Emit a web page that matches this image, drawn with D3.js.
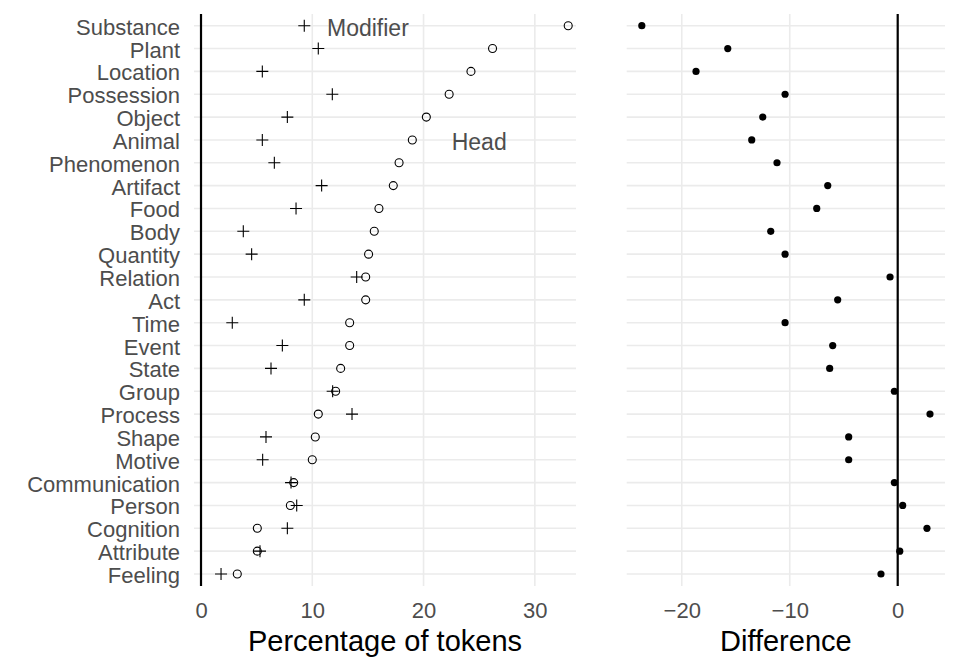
<!DOCTYPE html>
<html>
<head>
<meta charset="utf-8">
<script src="https://cdn.jsdelivr.net/npm/d3@7"></script>
<style>
  body { margin: 0; background: white; }
  text { font-family: "Liberation Sans", Arial, sans-serif; }
</style>
</head>
<body>
<div id="my_dataviz"></div>
<script>

// categories, top to bottom
const categories = ['Substance', 'Plant', 'Location', 'Possession', 'Object', 'Animal', 'Phenomenon',
    'Artifact', 'Food', 'Body', 'Quantity', 'Relation', 'Act', 'Time', 'Event', 'State', 'Group',
    'Process', 'Shape', 'Motive', 'Communication', 'Person', 'Cognition', 'Attribute', 'Feeling']

// percentage of tokens as head (circles)
const head = [33.0, 26.2, 24.26, 22.3, 20.25, 18.99, 17.8, 17.28, 15.99, 15.57, 15.06, 14.8, 14.8,
    13.36, 13.36, 12.55, 12.1, 10.54, 10.27, 10.0, 8.33, 8.03, 5.06, 5.06, 3.26]

// percentage of tokens as modifier (plus signs)
const modifier = [9.28, 10.54, 5.51, 11.8, 7.76, 5.51, 6.59, 10.84, 8.54, 3.8, 4.55, 13.99, 9.28,
    2.81, 7.31, 6.29, 11.83, 13.57, 5.84, 5.54, 8.09, 8.6, 7.76, 5.3, 1.8]

// modifier - head (right panel)
const difference = [-23.7, -15.74, -18.68, -10.43, -12.5, -13.52, -11.18, -6.48, -7.5, -11.76, -10.43,
    -0.71, -5.56, -10.43, -6.02, -6.3, -0.31, 2.99, -4.54, -4.54, -0.31, 0.46, 2.71, 0.19, -1.55]

const leftTicks = [0, 10, 20, 30]
const rightTicks = [-20, -10, 0]

const svg = d3.select("#my_dataviz")
    .append("svg")
    .attr("width", 960)
    .attr("height", 672)

const panelTop = 14, panelBottom = 586

const y = d3.scalePoint()
    .domain(categories)
    .range([25.7, 574])

const xL = d3.scaleLinear()
    .domain([-0.63, 33.7])
    .range([194, 576])

const xR = d3.scaleLinear()
    .domain([-25.1, 4.38])
    .range([626.7, 945])

const grid = "#EBEBEB"

// draws gridlines + zero line for one panel
function panel(x, ticks) {
    const g = svg.append("g")
    const [x0, x1] = x.range()

    g.selectAll("hgrid")
        .data(categories)
        .join("line")
        .attr("x1", x0).attr("x2", x1)
        .attr("y1", d => y(d)).attr("y2", d => y(d))
        .style("stroke", grid)
        .style("stroke-width", 1.6)

    g.selectAll("vgrid")
        .data(ticks)
        .join("line")
        .attr("x1", d => x(d)).attr("x2", d => x(d))
        .attr("y1", panelTop).attr("y2", panelBottom)
        .style("stroke", grid)
        .style("stroke-width", 1.6)

    // zero line
    g.append("line")
        .attr("x1", x(0)).attr("x2", x(0))
        .attr("y1", panelTop).attr("y2", panelBottom)
        .style("stroke", "black")
        .style("stroke-width", 2.2)

    // x axis, no ticks or domain
    const ax = svg.append("g")
        .attr("transform", "translate(0," + panelBottom + ")")
        .call(d3.axisBottom(x).tickValues(ticks).tickSize(0).tickPadding(16.7))
    ax.select(".domain").remove()
    ax.selectAll("text")
        .style("font-size", "22px")
        .style("fill", "#4D4D4D")
        .style("font-family", "'Liberation Sans', Arial, sans-serif")
}

panel(xL, leftTicks)
panel(xR, rightTicks)

// y axis labels
svg.selectAll("ylabels")
    .data(categories)
    .join("text")
    .attr("x", 180)
    .attr("y", d => y(d) + 1.5)
    .attr("text-anchor", "end")
    .attr("dominant-baseline", "central")
    .style("font-size", "22px")
    .style("fill", "#4D4D4D")
    .text(d => d)

// head: open circles
svg.selectAll("heads")
    .data(head)
    .join("circle")
    .attr("cx", d => xL(d))
    .attr("cy", (d, i) => y(categories[i]))
    .attr("r", 4)
    .style("fill", "none")
    .style("stroke", "black")
    .style("stroke-width", 1.1)

// modifier: plus signs
svg.selectAll("mods")
    .data(modifier)
    .join("path")
    .attr("transform", (d, i) => "translate(" + xL(d) + "," + y(categories[i]) + ")")
    .attr("d", "M-6,0H6M0,-6V6")
    .style("stroke", "black")
    .style("stroke-width", 1.1)

// difference: filled dots
svg.selectAll("diffs")
    .data(difference)
    .join("circle")
    .attr("cx", d => xR(d))
    .attr("cy", (d, i) => y(categories[i]))
    .attr("r", 3.6)
    .style("fill", "black")

// annotations
svg.append("text")
    .attr("x", xL(15))
    .attr("y", y('Substance') + 2)
    .attr("text-anchor", "middle")
    .attr("dominant-baseline", "central")
    .style("font-size", "23px")
    .style("fill", "#4D4D4D")
    .text("Modifier")

svg.append("text")
    .attr("x", xL(25))
    .attr("y", y('Animal') + 2)
    .attr("text-anchor", "middle")
    .attr("dominant-baseline", "central")
    .style("font-size", "23px")
    .style("fill", "#4D4D4D")
    .text("Head")

// axis titles
svg.append("text")
    .attr("x", (xL.range()[0] + xL.range()[1]) / 2)
    .attr("y", 650.7)
    .attr("text-anchor", "middle")
    .style("font-size", "29px")
    .style("fill", "black")
    .text("Percentage of tokens")

svg.append("text")
    .attr("x", (xR.range()[0] + xR.range()[1]) / 2)
    .attr("y", 650.7)
    .attr("text-anchor", "middle")
    .style("font-size", "29px")
    .style("fill", "black")
    .text("Difference")

</script>
</body>
</html>
